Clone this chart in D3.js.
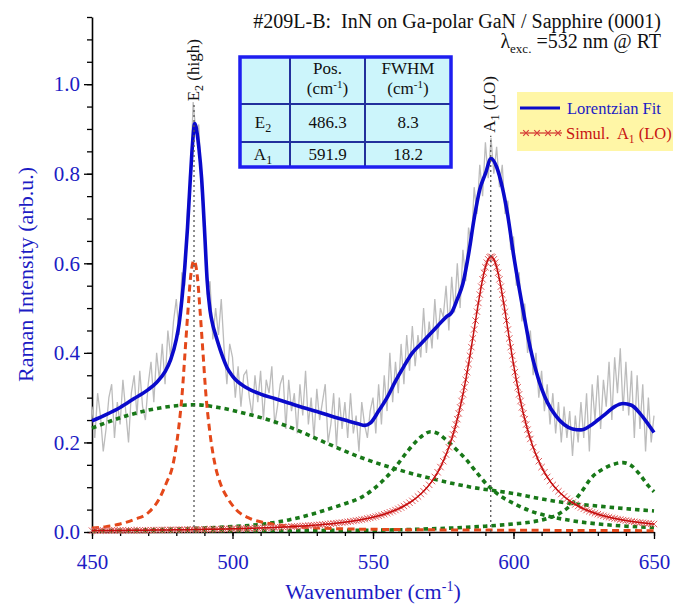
<!DOCTYPE html>
<html>
<head>
<meta charset="utf-8">
<script src="https://cdn.jsdelivr.net/npm/d3@7/dist/d3.min.js"></script>
<style>
  body { margin: 0; background: #fff; }
  svg text { font-family: "Liberation Serif", Tinos, "DejaVu Serif", "Times New Roman", Times, serif !important; }
</style>
</head>
<body>
<div id="chart"></div>
<script>
// ---- values ----
var xTicks = [450, 500, 550, 600, 650];
var xMinorTicks = d3.range(450, 651, 10);
var yTicks = [0.0, 0.2, 0.4, 0.6, 0.8, 1.0];
var yMinorTicks = d3.range(0, 1.151, 0.05);

// peak table
var peakNames = ["E", "A"];
var peakSubs = ["2", "1"];
var peakPos = [486.3, 591.9];
var peakFwhm = [8.3, 18.2];

// measured spectrum, one value per cm-1 from 450 to 650
var rawWave = d3.range(450, 651);
var rawIntensity = [
  .28,.21,.31,.26,.18,.23,.30,.33,.21,.29,
  .24,.34,.27,.20,.31,.35,.26,.36,.28,.25,
  .33,.38,.29,.40,.34,.42,.33,.45,.39,.47,
  .52,.44,.58,.55,.72,.79,.96,.89,.91,.76,
  .70,.53,.56,.43,.50,.44,.52,.41,.33,.42,
  .39,.30,.37,.28,.35,.36,.30,.26,.35,.29,
  .36,.25,.34,.31,.37,.24,.28,.33,.35,.23,
  .34,.27,.31,.22,.33,.26,.36,.24,.30,.21,
  .32,.25,.29,.33,.20,.24,.31,.19,.30,.23,
  .29,.21,.31,.22,.26,.18,.29,.24,.21,.27,
  .30,.22,.33,.24,.35,.27,.40,.29,.38,.31,
  .42,.33,.44,.36,.46,.37,.44,.39,.50,.40,
  .47,.41,.52,.43,.50,.48,.55,.45,.57,.49,
  .60,.50,.63,.56,.68,.64,.77,.71,.82,.75,
  .87,.79,.88,.80,.86,.77,.82,.71,.74,.63,
  .66,.55,.58,.47,.51,.40,.45,.35,.40,.30,
  .36,.27,.33,.24,.31,.22,.29,.20,.28,.21,
  .27,.17,.26,.20,.29,.21,.31,.18,.33,.25,
  .35,.23,.34,.28,.38,.25,.39,.31,.41,.27,
  .38,.26,.36,.21,.35,.23,.33,.18,.30,.20,
  .26
];

// Lorentzian fit (blue)
var fitWave = [450,455,460,465,470,473,476,478,480,481,482,483,484,485,486,486.5,487,488,489,490,
  491,492,493,494,496,498,500,505,510,515,520,525,530,535,540,545,547,549,552,555,
  558,561,564,567,570,573,576,578,580,582,584,586,588,590,592,594,596,598,600,602,
  604,606,608,610,612,615,618,621,624,627,630,633,636,639,642,645,648,650];
var fitIntensity = [0.248,0.262,0.278,0.298,0.318,0.334,0.358,0.385,0.43,0.465,0.52,0.59,0.68,0.79,0.885,0.912,0.905,0.86,0.79,0.68,
  0.56,0.495,0.462,0.44,0.40,0.368,0.348,0.322,0.308,0.298,0.288,0.278,0.269,0.259,0.250,0.241,0.238,0.243,0.27,0.30,
  0.337,0.37,0.40,0.42,0.44,0.46,0.48,0.49,0.52,0.555,0.62,0.70,0.765,0.80,0.834,0.815,0.77,0.705,0.62,0.545,
  0.475,0.41,0.36,0.32,0.29,0.26,0.24,0.23,0.228,0.236,0.25,0.265,0.28,0.287,0.283,0.265,0.24,0.222];

// E2 component (orange dashed)
var e2Wave = [450,455,460,465,470,474,476.5,478.8,480.8,482.1,483.1,484.1,485.1,486.3,487.5,
  488.5,489.5,490.5,491.8,493.8,495.6,498.3,501.3,506.3,511.3,520.3,530,550,600,650];
var e2Intensity = [0.009,0.012,0.018,0.028,0.043,0.075,0.11,0.15,0.23,0.31,0.40,0.49,0.57,0.606,0.57,
  0.49,0.40,0.31,0.23,0.15,0.11,0.075,0.05,0.03,0.021,0.013,0.009,0.006,0.004,0.003];

// background components (green dotted)
var broadWave = [450,460,470,480,487,495,505,513,520,534,545,558,571,585,600,610,620,630,640,650];
var broadIntensity = [0.232,0.255,0.272,0.282,0.284,0.278,0.264,0.25,0.235,0.197,0.168,0.141,0.119,0.10,0.086,0.074,0.064,0.058,0.052,0.047];

var g570Wave = [450,470,490,500,510,520,530,535,540,546,550,555,558,562,565,568,570.5,573,576,580,
  583,587,591,595,600,606,612,620,630,640,650];
var g570Intensity = [0.003,0.005,0.009,0.012,0.017,0.027,0.043,0.053,0.063,0.078,0.095,0.124,0.145,0.178,0.2,0.217,0.224,0.22,0.206,0.182,
  0.163,0.132,0.103,0.082,0.064,0.047,0.036,0.026,0.018,0.013,0.010];

var g638Wave = [450,500,550,570,590,600,606,612,616,620,624,628,632,636,639,642,645,648,650];
var g638Intensity = [0.002,0.003,0.004,0.007,0.013,0.018,0.022,0.03,0.04,0.058,0.088,0.123,0.141,0.152,0.155,0.148,0.128,0.103,0.09];

// simulated A1(LO) line (red, x markers)
var simWave = d3.range(450, 578).concat(d3.range(578, 606.01, 0.5), d3.range(607, 651));
var simA1 = [
  .0030,.0031,.0031,.0031,.0032,.0032,.0033,.0033,.0034,.0035,
  .0035,.0036,.0036,.0037,.0037,.0038,.0038,.0039,.0040,.0040,
  .0041,.0042,.0042,.0043,.0044,.0045,.0045,.0046,.0047,.0048,
  .0049,.0049,.0050,.0051,.0052,.0053,.0054,.0055,.0056,.0057,
  .0059,.0060,.0061,.0062,.0063,.0064,.0066,.0067,.0069,.0070,
  .0072,.0073,.0075,.0077,.0078,.0080,.0082,.0084,.0086,.0088,
  .0090,.0093,.0095,.0097,.0099,.0102,.0104,.0107,.0110,.0113,
  .0116,.0120,.0123,.0126,.0130,.0134,.0138,.0142,.0146,.0151,
  .0156,.0161,.0166,.0172,.0178,.0184,.0190,.0197,.0204,.0211,
  .0219,.0228,.0237,.0246,.0256,.0266,.0278,.0289,.0302,.0316,
  .0330,.0345,.0362,.0379,.0398,.0419,.0441,.0464,.0490,.0517,
  .0547,.0580,.0615,.0654,.0696,.0742,.0793,.0848,.0910,.0978,
  .1053,.1137,.1230,.1334,.1450,.1581,.1728,.1892,
  .2078,.2179,.2286,.2400,.2520,.2648,.2783,.2925,.3075,.3233,
  .3398,.3570,.3750,.3936,.4128,.4323,.4522,.4722,.4920,.5114,
  .5302,.5479,.5642,.5788,.5913,.6015,.6089,.6135,.6150,
  .6135,.6089,.6015,.5913,.5788,.5642,.5479,.5302,.5114,.4920,
  .4722,.4522,.4323,.4128,.3936,.3750,.3570,.3398,.3233,.3075,
  .2925,.2783,.2648,.2520,.2400,.2286,.2179,.2078,
  .1892,.1728,.1581,.1450,.1334,.1230,.1137,.1053,.0978,.0910,
  .0848,.0793,.0742,.0696,.0654,.0615,.0580,.0547,.0517,.0490,
  .0464,.0441,.0419,.0398,.0379,.0362,.0345,.0330,.0316,.0302,
  .0289,.0278,.0266,.0256,.0246,.0237,.0228,.0219,.0211,.0204,
  .0197,.0190,.0184,.0178
];

// ---- chart setup ----
var svgWidth = 683;
var svgHeight = 609;
var margin = { top: 17, right: 29, bottom: 77, left: 92 };
var width = svgWidth - margin.left - margin.right;
var height = svgHeight - margin.top - margin.bottom;

var blue = "#1c1cc4";
var serif = "'Liberation Serif', Tinos, 'DejaVu Serif', serif";

var svg = d3.select("#chart")
  .append("svg")
  .attr("width", svgWidth)
  .attr("height", svgHeight)
  .attr("font-family", serif);

var chartGroup = svg.append("g")
  .attr("transform", `translate(${margin.left}, ${margin.top})`);

var xLinearScale = d3.scaleLinear().domain([450, 650]).range([0, width]);
var yLinearScale = d3.scaleLinear().domain([0, 1.15]).range([height, 0]);

// minor ticks first, then major axes
chartGroup.append("g")
  .attr("transform", `translate(0, ${height})`)
  .call(d3.axisBottom(xLinearScale).tickValues(xMinorTicks).tickSize(4).tickFormat(""))
  .call(g => g.select(".domain").remove());
chartGroup.append("g")
  .call(d3.axisLeft(yLinearScale).tickValues(yMinorTicks).tickSize(5).tickFormat(""))
  .call(g => g.select(".domain").remove());

var bottomAxis = d3.axisBottom(xLinearScale).tickValues(xTicks).tickSize(7).tickSizeOuter(0).tickPadding(15);
var leftAxis = d3.axisLeft(yLinearScale).tickValues(yTicks).tickFormat(d3.format(".1f"))
  .tickSize(8).tickSizeOuter(0).tickPadding(4);

chartGroup.append("g")
  .attr("class", "axis")
  .attr("transform", `translate(0, ${height})`)
  .call(bottomAxis);
chartGroup.append("g")
  .attr("class", "axis")
  .call(leftAxis);

chartGroup.selectAll("g").attr("font-family", serif);
chartGroup.selectAll(".tick line").attr("stroke", "#000").attr("stroke-width", 1.3);
chartGroup.selectAll(".domain").attr("stroke", "#000").attr("stroke-width", 1.6);
chartGroup.selectAll(".axis text")
  .attr("font-size", 21)
  .attr("fill", blue);

// line generators
var smoothLine = d3.line()
  .x(d => xLinearScale(d[0]))
  .y(d => yLinearScale(d[1]))
  .curve(d3.curveMonotoneX);
var rawLine = d3.line()
  .x(d => xLinearScale(d[0]))
  .y(d => yLinearScale(d[1]));

// measured data
chartGroup.append("path")
  .attr("d", rawLine(d3.zip(rawWave, rawIntensity)))
  .attr("fill", "none")
  .attr("stroke", "#bcbcbc")
  .attr("stroke-width", 1.3);

// green background components
[[broadWave, broadIntensity], [g570Wave, g570Intensity], [g638Wave, g638Intensity]].forEach(function(c) {
  chartGroup.append("path")
    .attr("d", smoothLine(d3.zip(c[0], c[1])))
    .attr("fill", "none")
    .attr("stroke", "#187818")
    .attr("stroke-width", 3.6)
    .attr("stroke-dasharray", "4.5,4");
});

// E2 component
chartGroup.append("path")
  .attr("d", smoothLine(d3.zip(e2Wave, e2Intensity)))
  .attr("fill", "none")
  .attr("stroke", "#e4481a")
  .attr("stroke-width", 3)
  .attr("stroke-dasharray", "7,4.5");

// simulated A1 markers and line
var simPts = d3.zip(simWave, simA1);
chartGroup.selectAll(".xmark")
  .data(simPts)
  .enter()
  .append("path")
  .attr("class", "xmark")
  .attr("d", "M-3.2,-3.2L3.2,3.2M-3.2,3.2L3.2,-3.2")
  .attr("transform", d => `translate(${xLinearScale(d[0])}, ${yLinearScale(d[1])})`)
  .attr("stroke", "#e05a5a")
  .attr("stroke-width", 1)
  .attr("fill", "none");
chartGroup.append("path")
  .attr("d", smoothLine(simPts))
  .attr("fill", "none")
  .attr("stroke", "#c40d0d")
  .attr("stroke-width", 1.5);

// Lorentzian fit
chartGroup.append("path")
  .attr("d", smoothLine(d3.zip(fitWave, fitIntensity)))
  .attr("fill", "none")
  .attr("stroke", "#0a0acb")
  .attr("stroke-width", 3.6);

// peak markers (dotted verticals)
var markTop = [0.955, 0.885];
peakPos.forEach(function(p, i) {
  chartGroup.append("line")
    .attr("x1", xLinearScale(p)).attr("x2", xLinearScale(p))
    .attr("y1", height).attr("y2", yLinearScale(markTop[i]))
    .attr("stroke", "#555")
    .attr("stroke-width", 1.3)
    .attr("stroke-dasharray", "2,3");
});

// peak labels, rotated
var peakLabels = [{ main: "E", sub: "2", rest: " (high)" }, { main: "A", sub: "1", rest: " (LO)" }];
peakLabels.forEach(function(l, i) {
  var t = chartGroup.append("text")
    .attr("transform", `translate(${xLinearScale(peakPos[i]) + 4.5}, ${yLinearScale(markTop[i]) - 3}) rotate(-90)`)
    .attr("font-size", 17)
    .attr("fill", "#111")
    .style("white-space", "pre");
  t.append("tspan").text(l.main);
  t.append("tspan").attr("font-size", 12).attr("dy", 4).text(l.sub);
  t.append("tspan").attr("dy", -4).text(l.rest);
});

// axis titles
svg.append("text")
  .attr("transform", `translate(33, ${margin.top + height / 2}) rotate(-90)`)
  .attr("text-anchor", "middle")
  .attr("font-size", 22)
  .attr("fill", blue)
  .text("Raman Intensity (arb.u.)");

var xTitle = svg.append("text")
  .attr("x", margin.left + width / 2)
  .attr("y", 599)
  .attr("text-anchor", "middle")
  .attr("font-size", 22)
  .attr("fill", blue);
xTitle.append("tspan").text("Wavenumber (cm");
xTitle.append("tspan").attr("font-size", 14).attr("dy", -8).text("-1");
xTitle.append("tspan").attr("dy", 8).text(")");

// header text
svg.append("text")
  .attr("x", 661).attr("y", 28)
  .attr("text-anchor", "end")
  .attr("font-size", 20)
  .attr("fill", "#111")
  .style("white-space", "pre")
  .text("#209L-B:  InN on Ga-polar GaN / Sapphire (0001)");

var exc = svg.append("text")
  .attr("x", 661).attr("y", 48)
  .attr("text-anchor", "end")
  .attr("font-size", 20)
  .attr("fill", "#111")
  .style("white-space", "pre");
exc.append("tspan").text("\u03bb");
exc.append("tspan").attr("font-size", 13).attr("dy", 5).text("exc.");
exc.append("tspan").attr("dy", -5).text(" =532 nm @ RT");

// peak table
var tbl = { x: 240, y: 57, cols: [50, 75, 86], rows: [47, 38, 25] };
var tblW = d3.sum(tbl.cols), tblH = d3.sum(tbl.rows);
var tg = svg.append("g");
tg.append("rect")
  .attr("x", tbl.x).attr("y", tbl.y)
  .attr("width", tblW).attr("height", tblH)
  .attr("fill", "#ccf5fb");
var cx = [tbl.x, tbl.x + tbl.cols[0], tbl.x + tbl.cols[0] + tbl.cols[1]];
var ry = [tbl.y, tbl.y + tbl.rows[0], tbl.y + tbl.rows[0] + tbl.rows[1]];
[cx[1], cx[2]].forEach(function(v) {
  tg.append("line").attr("x1", v).attr("x2", v).attr("y1", tbl.y).attr("y2", tbl.y + tblH)
    .attr("stroke", "#22309c").attr("stroke-width", 2);
});
[ry[1], ry[2]].forEach(function(v) {
  tg.append("line").attr("x1", tbl.x).attr("x2", tbl.x + tblW).attr("y1", v).attr("y2", v)
    .attr("stroke", "#22309c").attr("stroke-width", 2);
});
tg.append("rect")
  .attr("x", tbl.x).attr("y", tbl.y)
  .attr("width", tblW).attr("height", tblH)
  .attr("fill", "none")
  .attr("stroke", "#1e1ef0")
  .attr("stroke-width", 3.5);

var colMid = [cx[0] + tbl.cols[0] / 2, cx[1] + tbl.cols[1] / 2, cx[2] + tbl.cols[2] / 2];
function cell(x, y, txt) {
  return tg.append("text").attr("x", x).attr("y", y)
    .attr("text-anchor", "middle").attr("font-size", 17).attr("fill", "#111").text(txt);
}
["Pos.", "FWHM"].forEach(function(h, i) {
  cell(colMid[i + 1], 74, h);
  var u = cell(colMid[i + 1], 94, "(cm");
  u.append("tspan").attr("font-size", 11).attr("dy", -6).text("-1");
  u.append("tspan").attr("dy", 6).text(")");
});
var rowBase = [128, 160];
peakNames.forEach(function(n, i) {
  var t = cell(colMid[0] - 2, rowBase[i], n);
  t.append("tspan").attr("font-size", 12).attr("dy", 4).text(peakSubs[i]);
  cell(colMid[1], rowBase[i], peakPos[i].toFixed(1));
  cell(colMid[2], rowBase[i], peakFwhm[i].toFixed(1));
});

// legend
var lg = svg.append("g");
lg.append("rect")
  .attr("x", 517).attr("y", 92)
  .attr("width", 156).attr("height", 59)
  .attr("fill", "#fff6a6");
lg.append("line")
  .attr("x1", 520).attr("x2", 560).attr("y1", 108).attr("y2", 108)
  .attr("stroke", "#0a0acb").attr("stroke-width", 3);
lg.append("text")
  .attr("x", 567).attr("y", 113.5)
  .attr("font-size", 16.5).attr("fill", blue)
  .text("Lorentzian Fit");
lg.append("line")
  .attr("x1", 520).attr("x2", 562).attr("y1", 133).attr("y2", 133)
  .attr("stroke", "#c40d0d").attr("stroke-width", 1.2);
lg.selectAll(".lgmark")
  .data([526, 537, 548, 558])
  .enter()
  .append("path")
  .attr("d", "M-2.8,-2.8L2.8,2.8M-2.8,2.8L2.8,-2.8")
  .attr("transform", d => `translate(${d}, 133)`)
  .attr("stroke", "#d83c3c")
  .attr("stroke-width", 1.2);
var simLabel = lg.append("text")
  .attr("x", 566).attr("y", 139)
  .attr("font-size", 16.5).attr("fill", "#c81212")
  .style("white-space", "pre");
simLabel.append("tspan").text("Simul.  A");
simLabel.append("tspan").attr("font-size", 11.5).attr("dy", 4).text("1");
simLabel.append("tspan").attr("dy", -4).text(" (LO)");
</script>
</body>
</html>
